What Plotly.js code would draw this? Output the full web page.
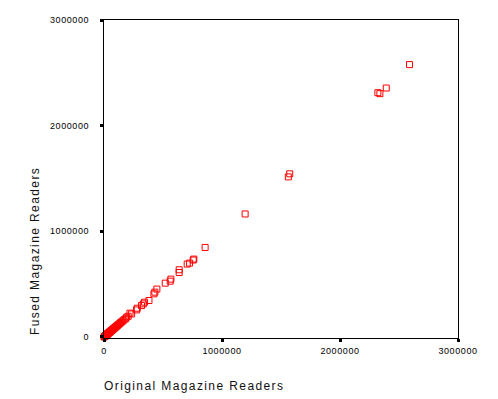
<!DOCTYPE html>
<html>
<head>
<meta charset="utf-8">
<script src="https://cdn.plot.ly/plotly-3.0.1.min.js"></script>
<style>
html,body{margin:0;padding:0;background:#fff;}
#chart{width:498px;height:399px;}
.xtick text,.ytick text{letter-spacing:0.6px;}
.annotation-text{letter-spacing:1.4px;}
</style>
</head>
<body>
<div id="chart"></div>
<script>
var xTitle = "Original Magazine Readers";
var yTitle = "Fused Magazine Readers";
var tickVals = [0, 1000000, 2000000, 3000000];
var tickText = ["0", "1000000", "2000000", "3000000"];

var originalReaders = [
  1000, 3000, 5000, 7000, 9000, 11000, 13000, 15000, 17000, 19000,
  21000, 23000, 25000, 27000, 29000, 31000, 34000, 37000, 40000, 43000,
  46000, 49000, 52000, 55000, 58000, 62000, 66000, 70000, 74000, 78000,
  82000, 87000, 92000, 97000, 102000, 108000, 114000, 120000, 127000, 134000,
  142000, 150000, 160000, 170000, 182000, 192000, 205000, 220000, 234000, 276000,
  282000, 318000, 333000, 344000, 381000, 423000, 431000, 448000, 519000, 561000,
  567000, 637000, 637000, 705000, 725000, 756000, 761000, 857000, 1196000, 1562000,
  1574000, 2321000, 2338000, 2392000, 2589000
];
var fusedReaders = [
  0, 2000, 4000, 7000, 8000, 10000, 13000, 14000, 16000, 18000,
  20000, 21000, 24000, 26000, 27000, 30000, 32000, 35000, 38000, 41000,
  44000, 47000, 49000, 53000, 55000, 60000, 62000, 67000, 71000, 75000,
  78000, 83000, 88000, 93000, 97000, 103000, 109000, 116000, 121000, 128000,
  137000, 143000, 153000, 163000, 172000, 187000, 196000, 225000, 218000, 256000,
  272000, 297000, 313000, 329000, 345000, 408000, 424000, 453000, 509000, 528000,
  547000, 610000, 636000, 690000, 699000, 728000, 737000, 847000, 1164000, 1515000,
  1544000, 2312000, 2303000, 2356000, 2578000
];

var trace = {
  x: originalReaders,
  y: fusedReaders,
  type: "scatter",
  mode: "markers",
  cliponaxis: false,
  marker: {symbol: "square-open", size: 6, color: "#ff0000", line: {color: "#ff0000", width: 1}},
  hoverinfo: "none"
};

var axisCommon = {
  showline: true, linecolor: "#000", linewidth: 1, mirror: true,
  showgrid: false, zeroline: false,
  ticks: "outside", ticklen: 3, tickwidth: 3, tickcolor: "#000",
  tickmode: "array", tickvals: tickVals, ticktext: tickText,
  tickfont: {family: "Liberation Sans, Arial, sans-serif", size: 9, color: "#000"}
};

var layout = {
  width: 498, height: 399,
  margin: {l: 104, r: 40, t: 20, b: 61, pad: 0},
  paper_bgcolor: "#fff", plot_bgcolor: "#fff",
  showlegend: false,
  xaxis: Object.assign({}, axisCommon, {range: [0, 3000000], ticklabelstandoff: 1}),
  yaxis: Object.assign({}, axisCommon, {range: [-10000, 3000000], ticklabelstandoff: 9}),
  annotations: [
    {text: xTitle, xref: "paper", yref: "paper", x: 0, y: 0, xanchor: "left", yanchor: "middle",
     xshift: -2, yshift: -48, showarrow: false,
     font: {family: "Liberation Sans, Arial, sans-serif", size: 12, color: "#111"}},
    {text: yTitle, xref: "paper", yref: "paper", x: 0, y: 0, xanchor: "center", yanchor: "bottom",
     textangle: -90, xshift: -69, yshift: 1, showarrow: false,
     font: {family: "Liberation Sans, Arial, sans-serif", size: 12, color: "#111"}}
  ]
};

Plotly.newPlot("chart", [trace], layout, {displayModeBar: false, staticPlot: true});
</script>
</body>
</html>
